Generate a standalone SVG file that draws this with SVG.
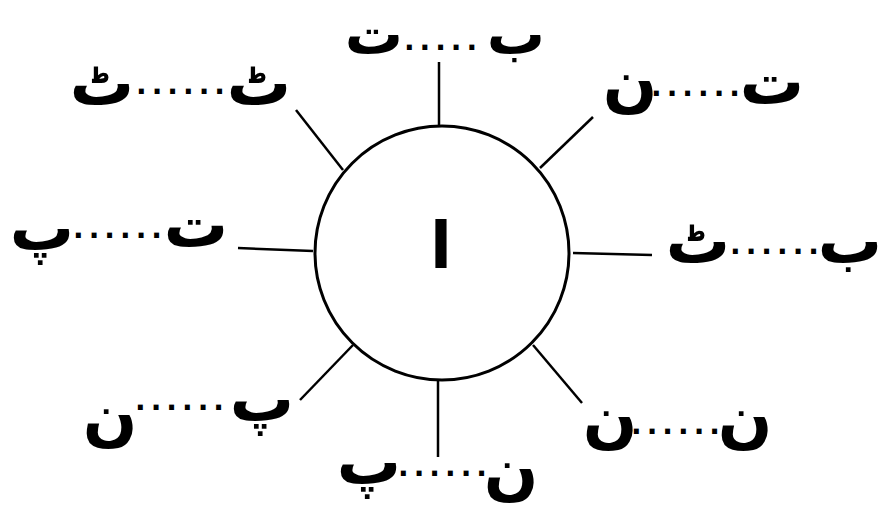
<svg xmlns="http://www.w3.org/2000/svg" width="881" height="518" viewBox="0 0 881 518">
<style>
.l{font-family:"DejaVu Sans",sans-serif;font-weight:bold;font-size:64px;fill:#000;text-anchor:middle}
.t{font-size:58px}
.d{font-family:"DejaVu Sans",sans-serif;font-weight:bold;font-size:28px;letter-spacing:5px;fill:#000;text-anchor:middle}
.c{fill:#fff;stroke:#000;stroke-width:3}
.k{stroke:#000;stroke-width:2.5;fill:none}
</style>
<rect width="881" height="518" fill="#fff"/>
<g id="connectors">
<line class="k" x1="439" y1="62" x2="439" y2="128"/>
<line class="k" x1="296" y1="110" x2="343" y2="170"/>
<line class="k" x1="593" y1="117" x2="540" y2="168"/>
<line class="k" x1="238" y1="248" x2="313" y2="251"/>
<line class="k" x1="573" y1="253" x2="652" y2="255"/>
<line class="k" x1="353" y1="345" x2="300" y2="400"/>
<line class="k" x1="533" y1="345" x2="582" y2="403"/>
<line class="k" x1="438" y1="378" x2="438" y2="457"/>
</g>
<g id="center">
<circle class="c" cx="442" cy="253" r="127"/>
<text class="l" x="441" y="268">ا</text>
</g>
<g id="n-top">
<text class="l t" x="516" y="54">ب</text><text class="d" x="443" y="50">.....</text><text class="l t" x="374" y="54">ت</text>
</g>
<g id="n-upper-left">
<text class="l" x="259" y="105">ٹ</text><text class="d" x="183" y="94">......</text><text class="l" x="102" y="105">ٹ</text>
</g>
<g id="n-upper-right">
<text class="l" x="772" y="104">ت</text><text class="d" x="698" y="96">......</text><text class="l" x="630" y="104">ن</text>
</g>
<g id="n-left">
<text class="l" x="196" y="247">ت</text><text class="d" x="120" y="238">......</text><text class="l" x="42" y="250">پ</text>
</g>
<g id="n-right">
<text class="l" x="850" y="263">ب</text><text class="d" x="777" y="254">......</text><text class="l" x="698" y="263">ٹ</text>
</g>
<g id="n-lower-left">
<text class="l" x="262" y="421">پ</text><text class="d" x="182" y="410">......</text><text class="l" x="110" y="438">ن</text>
</g>
<g id="n-lower-right">
<text class="l" x="745" y="440">ن</text><text class="d" x="678" y="434">......</text><text class="l" x="610" y="440">ن</text>
</g>
<g id="n-bottom">
<text class="l" x="511" y="492">ن</text><text class="d" x="445" y="476">......</text><text class="l" x="369" y="484">پ</text>
</g>
</svg>
